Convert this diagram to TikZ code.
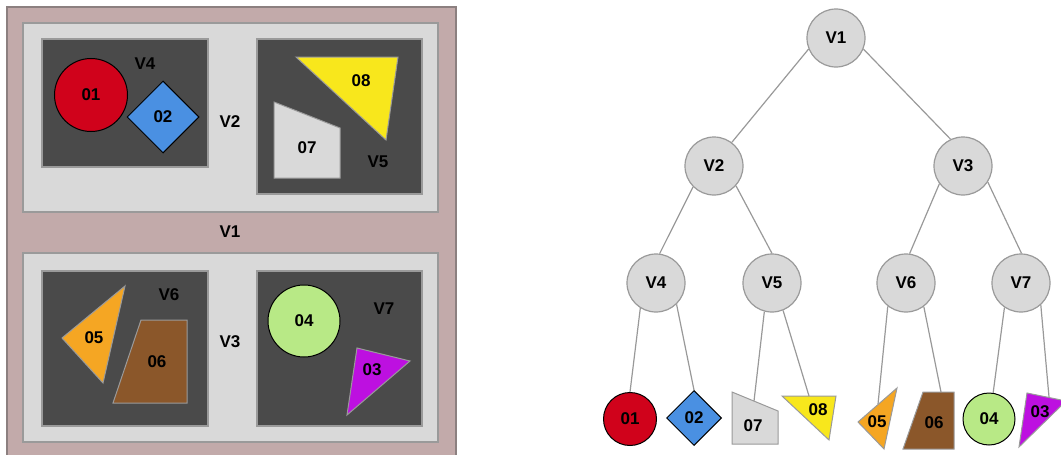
\documentclass[tikz,border=0pt]{standalone}
\usepackage{fontspec}
\setmainfont{Liberation Sans}
\usetikzlibrary{shapes.geometric}
\definecolor{outerfill}{HTML}{C2AAAA}
\definecolor{outerdraw}{HTML}{8C8080}
\definecolor{lightg}{HTML}{D9D9D9}
\definecolor{darkg}{HTML}{4A4A4A}
\definecolor{boxdraw}{HTML}{9A9A9A}
\definecolor{edgeg}{HTML}{999999}
\definecolor{cred}{HTML}{D0021B}
\definecolor{cblue}{HTML}{4A90E2}
\definecolor{cyellow}{HTML}{F8E71C}
\definecolor{corange}{HTML}{F5A623}
\definecolor{cbrown}{HTML}{8B572A}
\definecolor{cgreen}{HTML}{B8E986}
\definecolor{cpurple}{HTML}{BD10E0}
\tikzset{
  txt/.style={font=\fontsize{17}{20}\selectfont\bfseries, inner sep=0pt, text=black},
  tnode/.style={circle, fill=lightg, draw=boxdraw, line width=1.2pt, minimum size=58, inner sep=0pt, font=\fontsize{17}{20}\selectfont\bfseries},
  edge/.style={draw=edgeg, line width=1.2pt},
  lightbox/.style={fill=lightg, draw=boxdraw, line width=1.5pt},
  darkbox/.style={fill=darkg, draw=boxdraw, line width=1.5pt},
  blackshape/.style={draw=black, line width=1pt, inner sep=0pt, font=\fontsize{17}{20}\selectfont\bfseries},
  grayshape/.style={draw=boxdraw, line width=1pt},
}
\begin{document}
\begin{tikzpicture}[x=1pt,y=-1pt]
\useasboundingbox (0,0) rectangle (1061,455);
\begin{scope}
\clip (0,0) rectangle (1061,455);
% ---------- left panel ----------
\path[fill=outerfill, draw=outerdraw, line width=2pt] (7,7) rectangle (456,475);
\path[lightbox] (23,23) rectangle (438,212);
\path[lightbox] (23,253) rectangle (438,442);
\path[darkbox] (42,39) rectangle (208,167);
\path[darkbox] (257,39) rectangle (422,194);
\path[darkbox] (42,271) rectangle (208,426);
\path[darkbox] (257,271) rectangle (422,426);

\node[blackshape, circle, fill=cred, minimum size=73] (p01) at (91,95) {01};
\node[blackshape, diamond, fill=cblue, minimum size=72, aspect=1] (p02) at (163,117) {02};
\path[grayshape, fill=cyellow] (296,57) -- (398,57) -- (386,140) -- cycle;
\node[txt] (p08) at (361,81) {08};
\path[grayshape, fill=lightg] (274,102) -- (340,128) -- (340,178) -- (274,178) -- cycle;
\node[txt] (p07) at (307,148) {07};
\path[grayshape, fill=corange] (125,286) -- (62,338) -- (103,383) -- cycle;
\node[txt] (p05) at (94,338) {05};
\path[grayshape, fill=cbrown] (141,320) -- (187,320) -- (187,403) -- (113,403) -- cycle;
\node[txt] (p06) at (157,362) {06};
\node[blackshape, circle, fill=cgreen, minimum size=72] (p04) at (304,321) {04};
\path[grayshape, fill=cpurple] (357,348) -- (410,361) -- (347,415) -- cycle;
\node[txt] (p03) at (372,370) {03};

\node[txt] (lV4) at (145,64) {V4};
\node[txt] (lV2) at (230,122) {V2};
\node[txt] (lV5) at (378,162) {V5};
\node[txt] (lV1) at (230,232) {V1};
\node[txt] (lV6) at (169,295) {V6};
\node[txt] (lV3) at (230,342) {V3};
\node[txt] (lV7) at (384,309) {V7};

% ---------- tree ----------
\node[tnode] (V1) at (836,38) {V1};
\node[tnode] (V2) at (714,166) {V2};
\node[tnode] (V3) at (963,166) {V3};
\node[tnode] (V4) at (656,283) {V4};
\node[tnode] (V5) at (772,283) {V5};
\node[tnode] (V6) at (906,283) {V6};
\node[tnode] (V7) at (1021,283) {V7};

% leaves
\node[blackshape, circle, fill=cred, minimum size=53] (t01) at (630,419) {01};
\node[blackshape, diamond, fill=cblue, minimum size=55, aspect=1] (t02) at (694,418) {02};
\path[grayshape, fill=lightg] (732,392) -- (778,411) -- (778,444) -- (732,444) -- cycle;
\node[txt] (t07) at (753,426) {07};
\coordinate (t07top) at (754,401);
\path[grayshape, fill=cyellow] (782,396) -- (836,396) -- (829,440) -- cycle;
\node[txt] (t08) at (818,410) {08};
\coordinate (t08top) at (809,396);
\path[grayshape, fill=corange] (897,388) -- (858,422) -- (884,449) -- cycle;
\node[txt] (t05) at (877,422) {05};
\coordinate (t05top) at (878,404);
\path[grayshape, fill=cbrown] (923,392) -- (954,392) -- (954,449) -- (903,449) -- cycle;
\node[txt] (t06) at (934,423) {06};
\coordinate (t06top) at (941,392);
\node[blackshape, circle, fill=cgreen, minimum size=52] (t04) at (989,419) {04};
\path[grayshape, fill=cpurple] (1027,393) -- (1066,401) -- (1019,447) -- cycle;
\node[txt] (t03) at (1040,412) {03};
\coordinate (t03top) at (1049,397);

% edges
\draw[edge] (V1.202) -- (V2.53);
\draw[edge] (V1.338) -- (V3.115);
\draw[edge] (V2.225) -- (V4.83);
\draw[edge] (V2.318) -- (V5.90);
\draw[edge] (V3.217) -- (V6.83);
\draw[edge] (V3.327) -- (V7.89);
\draw[edge] (V4.238) -- (t01.north);
\draw[edge] (V4.314) -- (t02.north);
\draw[edge] (V5.255) -- (t07top);
\draw[edge] (V5.292) -- (t08top);
\draw[edge] (V6.232) -- (t05top);
\draw[edge] (V6.307) -- (t06top);
\draw[edge] (V7.236) -- (t04.81);
\draw[edge] (V7.312) -- (t03top);
\end{scope}
\end{tikzpicture}
\end{document}
